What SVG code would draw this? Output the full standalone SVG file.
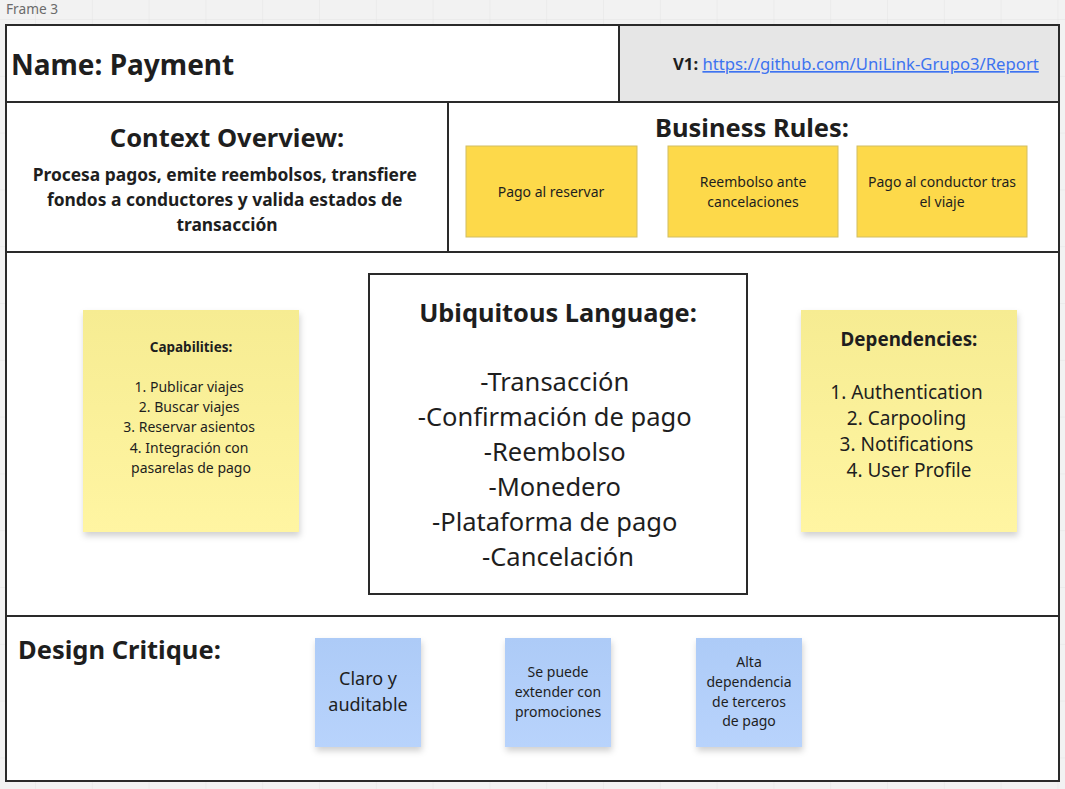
<svg xmlns="http://www.w3.org/2000/svg" width="1065" height="789" viewBox="0 0 1065 789">
<defs>
  <pattern id="grid" x="35" y="19" width="56.8" height="56.8" patternUnits="userSpaceOnUse">
    <path d="M0 0 V56.8 M0 0 H56.8" fill="none" stroke="#e4e4e4" stroke-width="1"/>
  </pattern>
  <linearGradient id="yel" x1="0" y1="0" x2="0" y2="1">
    <stop offset="0" stop-color="#f6ec92"/>
    <stop offset="1" stop-color="#fff5a2"/>
  </linearGradient>
  <linearGradient id="blu" x1="0" y1="0" x2="0" y2="1">
    <stop offset="0" stop-color="#adcbf7"/>
    <stop offset="1" stop-color="#b8d3fc"/>
  </linearGradient>
  <filter id="sh" x="-20%" y="-20%" width="140%" height="140%">
    <feDropShadow dx="1" dy="4" stdDeviation="3" flood-color="#000" flood-opacity="0.18"/>
  </filter>
  <style>
    text { font-family: "Noto Sans", "Open Sans", "Liberation Sans", sans-serif; fill: #1e1e1e; }
    .b { font-weight: bold; }
    .c { text-anchor: middle; }
    .cell { fill: #ffffff; stroke: #2a2a2a; stroke-width: 2; }
    .rule { fill: #fdd94a; stroke: #d2bd63; stroke-width: 1; }
    .s14 { font-size: 14px; }
  </style>
</defs>
<rect width="1065" height="789" fill="#f2f2f2"/>
<rect width="1065" height="789" fill="url(#grid)"/>
<text x="6" y="14" font-size="13.7" style="fill:#6b6b6b">Frame 3</text>

<g id="frame">
  <rect x="6" y="25" width="1053" height="756" class="cell" stroke-width="2.5"/>
</g>

<g id="name">
  <rect x="6" y="25" width="613" height="77" class="cell"/>
  <text x="11" y="75" font-size="28" class="b">Name: Payment</text>
</g>

<g id="version">
  <rect x="619" y="25" width="440" height="77" fill="#e6e6e6" stroke="#2a2a2a" stroke-width="2"/>
  <text x="673" y="70" font-size="16.7"><tspan class="b">V1:</tspan> <tspan style="fill:#3d73f0" text-decoration="underline">https://github.com/UniLink-Grupo3/Report</tspan></text>
</g>

<g id="context-overview">
  <rect x="6" y="102" width="442" height="150" class="cell"/>
  <text x="227" y="147" font-size="25.5" class="b c">Context Overview:</text>
  <text font-size="17.4" class="b c">
    <tspan x="227" y="181">Procesa pagos, emite reembolsos, transfiere</tspan>
    <tspan x="227" y="206">fondos a conductores y valida estados de</tspan>
    <tspan x="227" y="231">transacción</tspan>
  </text>
</g>

<g id="business-rules">
  <rect x="448" y="102" width="611" height="150" class="cell"/>
  <text x="752" y="137" font-size="25.5" class="b c">Business Rules:</text>
</g>
<g id="rule-1">
  <rect x="466" y="146" width="171" height="91" class="rule"/>
  <text x="551" y="197" class="s14 c">Pago al reservar</text>
</g>
<g id="rule-2">
  <rect x="668" y="146" width="170" height="91" class="rule"/>
  <text class="s14 c"><tspan x="753" y="187">Reembolso ante</tspan><tspan x="753" y="207">cancelaciones</tspan></text>
</g>
<g id="rule-3">
  <rect x="857" y="146" width="170" height="91" class="rule"/>
  <text class="s14 c"><tspan x="942" y="187">Pago al conductor tras</tspan><tspan x="942" y="207">el viaje</tspan></text>
</g>

<g id="middle-section">
  <rect x="6" y="252" width="1053" height="364" class="cell"/>
</g>

<g id="capabilities">
  <rect x="83" y="310" width="216" height="222" fill="url(#yel)" filter="url(#sh)"/>
  <text x="191" y="352" font-size="13.5" class="b c">Capabilities:</text>
  <text class="s14 c">
    <tspan x="191" y="392">1. Publicar viajes</tspan>
    <tspan x="191" y="412">2. Buscar viajes</tspan>
    <tspan x="191" y="432">3. Reservar asientos</tspan>
    <tspan x="191" y="453">4. Integración con</tspan>
    <tspan x="191" y="473">pasarelas de pago</tspan>
  </text>
</g>

<g id="ubiquitous-language">
  <rect x="369" y="274" width="378" height="320" fill="#ffffff" stroke="#2a2a2a" stroke-width="2"/>
  <text x="558" y="322" font-size="25.4" class="b c">Ubiquitous Language:</text>
  <text font-size="25.5" class="c">
    <tspan x="558" y="391">-Transacción</tspan>
    <tspan x="558" y="426">-Confirmación de pago</tspan>
    <tspan x="558" y="461">-Reembolso</tspan>
    <tspan x="558" y="496">-Monedero</tspan>
    <tspan x="558" y="531">-Plataforma de pago</tspan>
    <tspan x="558" y="566">-Cancelación</tspan>
  </text>
</g>

<g id="dependencies">
  <rect x="801" y="310" width="216" height="222" fill="url(#yel)" filter="url(#sh)"/>
  <text x="909" y="346" font-size="18.8" class="b c">Dependencies:</text>
  <text font-size="19" class="c">
    <tspan x="909" y="399">1. Authentication</tspan>
    <tspan x="909" y="425">2. Carpooling</tspan>
    <tspan x="909" y="451">3. Notifications</tspan>
    <tspan x="909" y="477">4. User Profile</tspan>
  </text>
</g>

<g id="design-critique">
  <rect x="6" y="616" width="1053" height="165" class="cell"/>
  <text x="18" y="659" font-size="25.5" class="b">Design Critique:</text>
</g>
<g id="critique-1">
  <rect x="315" y="638" width="106" height="109" fill="url(#blu)" filter="url(#sh)"/>
  <text font-size="18" class="c"><tspan x="368" y="685">Claro y</tspan><tspan x="368" y="711">auditable</tspan></text>
</g>
<g id="critique-2">
  <rect x="505" y="638" width="106" height="109" fill="url(#blu)" filter="url(#sh)"/>
  <text class="s14 c"><tspan x="558" y="677">Se puede</tspan><tspan x="558" y="697">extender con</tspan><tspan x="558" y="717">promociones</tspan></text>
</g>
<g id="critique-3">
  <rect x="696" y="638" width="106" height="109" fill="url(#blu)" filter="url(#sh)"/>
  <text class="s14 c"><tspan x="749" y="667">Alta</tspan><tspan x="749" y="687">dependencia</tspan><tspan x="749" y="707">de terceros</tspan><tspan x="749" y="726">de pago</tspan></text>
</g>

<g id="connectors"></g>
</svg>
